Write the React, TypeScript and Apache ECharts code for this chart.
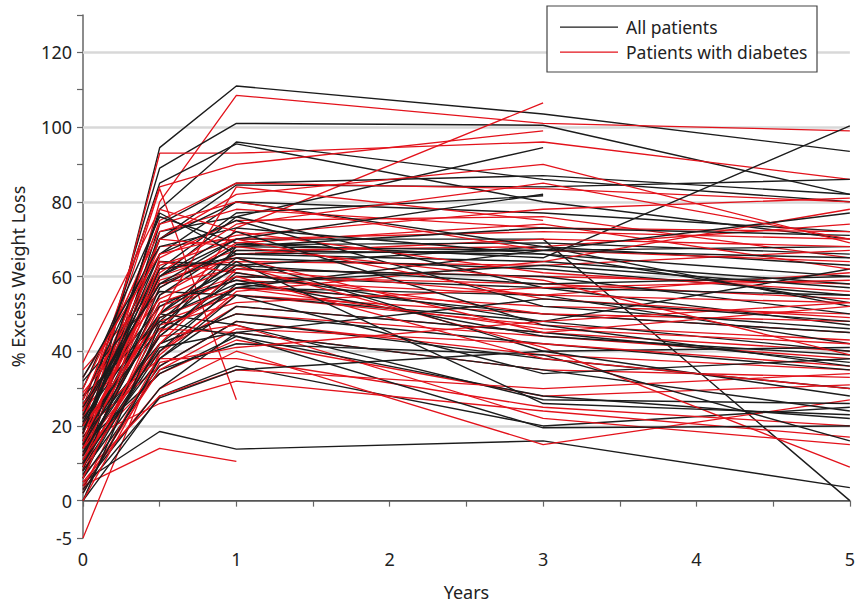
import React, { useEffect, useRef } from "react";
import * as echarts from "echarts";

const years = [0, 0.5, 1, 3, 5];
const yTickLabels = ["-5", "0", "20", "40", "60", "80", "100", "120"];
const gridValues = [20, 40, 60, 80, 100, 120];

// % excess weight loss at 0, 0.5, 1, 3, 5 years (null = no follow-up)
const allPatients: (number | null)[][] = [
  [12, 94.5, 111, 103.5, 93.5],
  [20, 89, 101, 100.5, 82],
  [15, 78, 96, 86, 80],
  [22, 85, 95.5, 80, 70],
  [10, 74, 85, 87, 82],
  [18, 70, 84.5, 84, 86],
  [25, 66, 80, 77, 72],
  [8, 72, 76, 94.5, null],
  [14, 62, 77, 81.6, null],
  [30, 76, 69, 65, 100.3],
  [20, 60, 70, 70, 0],
  [5, 18.5, 13.8, 16, 3.5],
  [0, 28, 36, 20, 25],
  [10, 45, 68, 67, 68],
  [16, 55, 68.5, 69, 66],
  [12, 50, 67, 66, 60],
  [24, 58, 66, 64, 58],
  [6, 48, 65, 62, 55],
  [18, 64, 63, 68, 52],
  [26, 52, 62, 60, 50],
  [14, 44, 60, 57, 47],
  [9, 40, 58, 50, 45],
  [20, 46, 57, 55, 42],
  [32, 56, 55, 48, 40],
  [11, 38, 52, 45, 37],
  [17, 42, 50, 42, 35],
  [8, 36, 48, 38, 30],
  [22, 50, 47, 27, 26],
  [4, 30, 45, 35, 24],
  [15, 34, 44, 28, 22],
  [28, 48, 44, 19.5, 20],
  [6, 35, 42, 39, 16],
  [20, 60, 76, 57, 55],
  [13, 44, 61, 48, 62],
  [3, 27.5, 35, 40, 28],
  [19, 66, 75, 52, 46],
  [27, 70, 80, 68, 63],
  [9, 57, 68, 73, 71],
  [23, 62, 65, 40, 41],
  [16, 53, 59, 44, 39],
  [7, 42, 57, 67, 77],
  [33, 68, 73, 66, 53],
  [2, 38, 55, 34, 38],
  [21, 60, 72, 47, 36],
  [12, 50, 64, 26, 23],
  [0, 47, 63, 58, 60],
  [18, 77, 66, 67, 65],
  [25, 58, 70, 82, null],
  [10, 41, 45, 54, 48],
  [15, 49, 58, 63, 57],
];

const diabetesPatients: (number | null)[][] = [
  [8, 80, 108.5, 101, 99],
  [14, 93, 93, 96, 86],
  [-5, 40, 55, 50, 45],
  [10, 45, 73, 106.5, null],
  [20, 83.5, 27, null, null],
  [4, 14, 10.5, null, null],
  [25, 84, 90, 99, null],
  [18, 75, 85, 83.5, 80],
  [12, 70, 82, 90, 69],
  [30, 72, 78, 73, 72],
  [6, 65, 75, 76, 65],
  [22, 68, 70, 72, 70],
  [15, 60, 67, 68, 74],
  [9, 55, 66, 70, 68],
  [28, 62, 64, 63, 67],
  [35, 58, 62, 60, 58],
  [17, 50, 60, 58, 54],
  [11, 52, 59, 55, 61],
  [3, 45, 57, 52, 50],
  [24, 48, 55, 47, 43],
  [14, 40, 52, 45, 40],
  [8, 42, 50, 44, 38],
  [19, 36, 48, 39, 35],
  [26, 46, 45, 35, 33],
  [13, 34, 43, 28, 31],
  [5, 30, 40, 15, 27],
  [21, 38, 38, 25, 20],
  [16, 26, 32, 24, 17],
  [10, 44, 47, 22, 15],
  [29, 54, 63, 41, 9],
  [7, 28, 35, 30, 34],
  [23, 64, 61, 50, 48],
  [12, 59, 65, 45, 52],
  [37, 78, 72, 61, 56],
  [2, 39, 56, 64, 78],
  [18, 57, 69, 74, 62],
  [27, 74, 80, 67, 64],
  [9, 47, 53, 57, 59],
  [15, 63, 70, 54, 49],
  [20, 49, 57, 46, 42],
  [33, 66, 71, 78, 81],
  [4, 35, 46, 42, 36],
  [14, 53, 60, 38, 30],
  [24, 70, 68, 59, 39],
  [11, 42, 62, 55, 53],
  [6, 50, 84, 75, null],
  [16, 61, 74, 85, 70],
  [0, 37, 41, 48, 53],
];

// broken axis: the segment between -5 and 0 is drawn twice as tall
const toAxis = (v: number) => (v < 0 ? v * 2 : v);

const FONT = "Noto Sans";
const BLACK = "#1c1c1c";
const RED = "#e3121b";

function lineSeries(vals: (number | null)[], name: string, color: string, width: number) {
  const data: [number, number][] = [];
  vals.forEach((v, j) => {
    if (v !== null) data.push([years[j], toAxis(v)]);
  });
  return {
    type: "line",
    name,
    data,
    symbol: "none",
    silent: true,
    z: 3,
    lineStyle: { color, width },
  };
}

export default function App() {
  const ref = useRef<HTMLDivElement>(null);
  useEffect(() => {
    if (!ref.current) return;
    const chart = echarts.init(ref.current, null, { renderer: "svg" });
    const series: any[] = [
      {
        type: "line",
        data: [
          [0, 0],
          [5, 0],
        ],
        symbol: "none",
        silent: true,
        z: 1,
        lineStyle: { color: "#555", width: 1.2 },
        markLine: {
          silent: true,
          symbol: "none",
          z: 1,
          label: { show: false },
          lineStyle: { color: "#d8d8d8", width: 2.5, type: "solid" },
          data: gridValues.map((v) => ({ yAxis: v })),
        },
      },
    ];
    const n = Math.max(allPatients.length, diabetesPatients.length);
    for (let i = 0; i < n; i++) {
      if (allPatients[i]) series.push(lineSeries(allPatients[i], "All patients", BLACK, 1.4));
      if (diabetesPatients[i]) series.push(lineSeries(diabetesPatients[i], "Patients with diabetes", RED, 1.3));
    }
    const labelSet = new Set(yTickLabels);
    const Z = 100;
    chart.setOption({
      animation: false,
      grid: { left: 83, right: 2.5, top: 15, bottom: 64, containLabel: false },
      xAxis: {
        type: "value",
        min: 0,
        max: 5,
        interval: 0.5,
        name: "Years",
        nameLocation: "middle",
        nameGap: 45,
        nameTextStyle: { fontFamily: FONT, fontSize: 18, color: "#222" },
        axisLine: { show: true, lineStyle: { color: "#666", width: 1.5 } },
        axisTick: { show: true, length: 6, lineStyle: { color: "#666", width: 1.2 } },
        axisLabel: {
          fontFamily: FONT,
          fontSize: 18,
          color: "#222",
          margin: 12,
          formatter: (v: number) => (Number.isInteger(v) ? String(v) : ""),
        },
        splitLine: { show: false },
      },
      yAxis: {
        type: "value",
        min: -10,
        max: 130,
        interval: 10,
        name: "% Excess Weight Loss",
        nameLocation: "middle",
        nameGap: 56,
        nameTextStyle: { fontFamily: FONT, fontSize: 18, color: "#222" },
        axisLine: { show: true, lineStyle: { color: "#666", width: 1.5 } },
        axisTick: { show: true, length: 6, lineStyle: { color: "#666", width: 1.2 } },
        axisLabel: {
          fontFamily: FONT,
          fontSize: 18,
          color: "#222",
          margin: 11,
          formatter: (v: number) => {
            const s = v === -10 ? "-5" : String(v);
            if (v === -10) return s;
            if (v >= 0 && v % 20 === 0 && labelSet.has(s)) return s;
            return "";
          },
        },
        splitLine: { show: false },
      },
      graphic: {
        z: Z,
        elements: [
          {
            type: "rect",
            z: Z,
            shape: { x: 547, y: 6, width: 270, height: 66 },
            style: { fill: "#fff", stroke: "#444", lineWidth: 1.2 },
          },
          {
            type: "rect",
            z: Z + 1,
            shape: { x: 560, y: 26.4, width: 58, height: 1.3 },
            style: { fill: BLACK },
          },
          {
            type: "text",
            z: Z + 1,
            x: 626,
            y: 27,
            style: {
              text: "All patients",
              fontFamily: FONT,
              fontSize: 17.5,
              fill: "#222",
              verticalAlign: "middle",
            },
          },
          {
            type: "rect",
            z: Z + 1,
            shape: { x: 560, y: 51.4, width: 58, height: 1.3 },
            style: { fill: RED },
          },
          {
            type: "text",
            z: Z + 1,
            x: 626,
            y: 52,
            style: {
              text: "Patients with diabetes",
              fontFamily: FONT,
              fontSize: 17.5,
              fill: "#222",
              verticalAlign: "middle",
            },
          },
        ],
      },
      series,
    });
    return () => chart.dispose();
  }, []);
  return (
    <div
      ref={ref}
      style={{ position: "fixed", left: 0, top: 0, width: 858, height: 606, background: "#fff" }}
    />
  );
}
